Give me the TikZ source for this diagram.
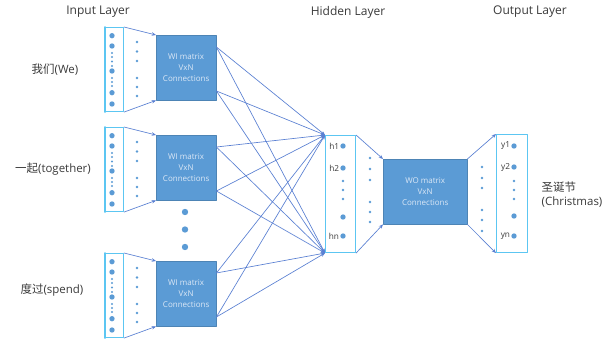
\documentclass[tikz,border=0pt]{standalone}
\usepackage{fontspec}
\setmainfont{Open Sans}
\newfontfamily\cjk{Noto Sans CJK SC}
\usetikzlibrary{arrows.meta,calc}
\definecolor{boxblue}{HTML}{5B9BD5}
\definecolor{edgeblue}{HTML}{5A80D2}
\definecolor{cyanline}{HTML}{5CC6F2}
\definecolor{boxtext}{HTML}{DCE8F6}
\definecolor{labelgray}{HTML}{3A3A3A}
\tikzset{
  colbox/.style={draw=cyanline,line width=0.8pt,minimum width=13.5pt,minimum height=63pt,inner sep=0pt,anchor=north west},
  matbox/.style={fill=boxblue,draw=boxblue!85!black,line width=0.3pt,text=boxtext,align=center,inner sep=0pt,
    font=\fontsize{6}{8.2}\selectfont,anchor=north west},
  link/.style={edgeblue,line width=0.5pt,-{Stealth[length=3.2pt,width=2.6pt]}},
  title/.style={text=labelgray,font=\fontsize{9}{11}\selectfont},
  word/.style={text=labelgray,font=\fontsize{8.6}{10.5}\selectfont},
  unit/.style={text=labelgray,font=\fontsize{6.2}{7}\selectfont,inner sep=0.5pt}
}
\begin{document}
\begin{tikzpicture}[line cap=round,line join=round,>=Stealth,x=0.75pt,y=-0.75pt]
\useasboundingbox (0,0) rectangle (615,343);
% titles
\node[title] (tin) at (98,12) {Input Layer};
\node[title] (thid) at (348,12) {Hidden Layer};
\node[title] (tout) at (530,12) {Output Layer};
% input columns and WI matrices
\foreach \i/\t in {1/27,2/127,3/253}{
  \node[colbox] (in\i) at (105,\t) {};
  \draw[cyanline,line width=1.2pt] (in\i.north west) -- (in\i.south west);
  \node[matbox,minimum width=45pt,minimum height=48.75pt] (wi\i) at (156,\t+8) {WI matrix\\VxN\\Connections};
  \draw[link] (in\i.north east) -- (wi\i.north west);
  \draw[link] (in\i.south east) -- (wi\i.south west);
  \foreach \d in {8.7,19,44,65.7,77} \fill[boxblue] (112,\t+\d) circle (2pt);
  \foreach \d in {26,30,34.5,39,51,55,59} \fill[boxblue] (112,\t+\d) circle (0.85pt);
  \foreach \d in {15,24.5,34,51,60,69} \fill[boxblue] (137,\t+\d) circle (1pt);
}
\node[word] (w1) at (55,70) {{\cjk 我们}(We)};
\node[word] (w2) at (53,169) {{\cjk 一起}(together)};
\node[word] (w3) at (52,290) {{\cjk 度过}(spend)};
% dots between matrices
\foreach \y in {212,229.5,247} \fill[boxblue] (185,\y) circle (2.4pt);
% hidden layer
\node[colbox,minimum width=22.5pt,minimum height=87.75pt] (hid) at (325,135) {};
\foreach \i in {1,2,3}{
  \coordinate (a\i) at ($(wi\i.north east)+(0,12)$);
  \coordinate (b\i) at ($(wi\i.north east)+(0,56)$);
  \draw[link] (a\i) -- (hid.north west);
  \draw[link] (a\i) -- (hid.south west);
  \draw[link] (b\i) -- (hid.north west);
  \draw[link] (b\i) -- (hid.south west);
}
\node[unit,anchor=east] (h1) at (340,146) {h1};
\node[unit,anchor=east] (h2) at (340,168) {h2};
\node[unit,anchor=east] (hn) at (340,236) {hn};
\foreach \y in {146,168,217,236} \fill[boxblue] (343,\y) circle (2pt);
\foreach \y in {181,190,199} \fill[boxblue] (343,\y) circle (1pt);
% WO matrix
\node[matbox,minimum width=63pt,minimum height=48.75pt] (wo) at (383,159) {WO matrix\\VxN\\Connections};
\draw[link] (hid.north east) -- (wo.north west);
\draw[link] (hid.south east) -- (wo.south west);
\foreach \y in {158,169,180,202,212,222} \fill[boxblue] (370,\y) circle (1pt);
% output layer
\node[colbox,minimum width=23.25pt,minimum height=88.5pt] (out) at (496,134) {};
\draw[link] (wo.north east) -- (out.north west);
\draw[link] (wo.south east) -- (out.south west);
\foreach \y in {167,178,188,210,220,231} \fill[boxblue] (482,\y) circle (1pt);
\node[unit,anchor=east] (y1) at (511,146) {y1};
\node[unit,anchor=east] (y2) at (511,167) {y2};
\node[unit,anchor=east] (yn) at (511,236) {yn};
\foreach \y in {146,167,216,236} \fill[boxblue] (514,\y) circle (2pt);
\foreach \y in {181,190,199} \fill[boxblue] (514,\y) circle (1pt);
\node[word,anchor=west,align=left] (res) at (537,195) {{\cjk 圣诞节}\\(Christmas)};
\end{tikzpicture}
\end{document}
